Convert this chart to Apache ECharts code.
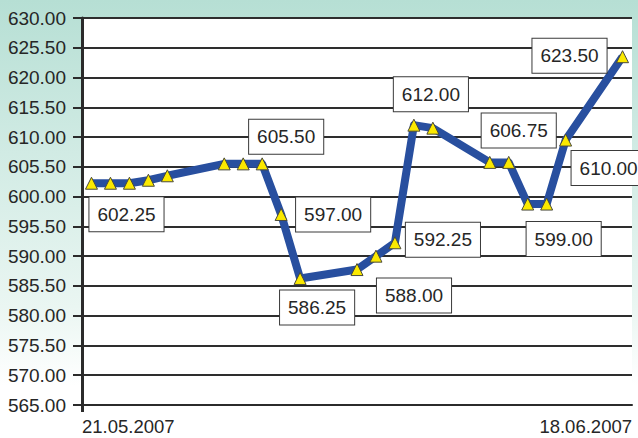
<!DOCTYPE html>
<html>
<head>
<meta charset="utf-8">
<script src="https://cdn.jsdelivr.net/npm/echarts@6/dist/echarts.min.js"></script>
<style>
  html, body { margin: 0; padding: 0; }
  body {
    width: 638px; height: 438px; overflow: hidden;
    background: linear-gradient(180deg, #b6dfd4 0%, #d1ebe4 35%, #eaf6f2 70%, #ffffff 88%);
  }
  #chart { width: 638px; height: 438px; }
</style>
</head>
<body>
<div id="chart"></div>
<script>
// ---- data ----
const tradeDates = ['21.05.2007','22.05.2007','23.05.2007','24.05.2007','25.05.2007',
  '28.05.2007','29.05.2007','30.05.2007','31.05.2007','01.06.2007',
  '04.06.2007','05.06.2007','06.06.2007','07.06.2007','08.06.2007',
  '11.06.2007','12.06.2007','13.06.2007','14.06.2007','15.06.2007',
  '18.06.2007'];
const prices = [602.25, 602.25, 602.25, 602.75, 603.5,
  605.5, 605.5, 605.5, 597.0, 586.25,
  587.75, 590.0, 592.25, 612.0, 611.5,
  605.75, 605.75, 598.75, 598.75, 609.5,
  623.5];
const annotDates = ['21.05.2007','30.05.2007','31.05.2007','01.06.2007','04.06.2007',
  '06.06.2007','07.06.2007','12.06.2007','14.06.2007','15.06.2007','18.06.2007'];
const annotTexts = ['602.25','605.50','597.00','586.25','588.00',
  '592.25','612.00','606.75','599.00','610.00','623.50'];
const yTickLabels = ['565.00','570.00','575.50','580.00','585.50','590.00','595.50',
  '600.00','605.50','610.00','615.50','620.00','625.50','630.00'];
const xAxisLabels = ['21.05.2007', '18.06.2007'];

// ---- styles / positions (not data) ----
const labelOffsets = {
  '21.05.2007': [35, 31], '30.05.2007': [24, -27], '31.05.2007': [52, 0],
  '01.06.2007': [17, 29], '04.06.2007': [57, 26], '06.06.2007': [48, -3],
  '07.06.2007': [17, -31], '12.06.2007': [10, -32], '14.06.2007': [17, 35],
  '15.06.2007': [43, 28], '18.06.2007': [-53, -1]
};

function dayIndex(s) {
  const p = s.split('.');
  const d0 = tradeDates[0].split('.');
  const t = Date.UTC(+p[2], +p[1] - 1, +p[0]);
  const t0 = Date.UTC(+d0[2], +d0[1] - 1, +d0[0]);
  return Math.round((t - t0) / 86400000);
}
const spanDays = dayIndex(tradeDates[tradeDates.length - 1]) + 1; // 29 calendar days

const seriesData = tradeDates.map((d, i) => {
  const item = { value: [dayIndex(d) + 0.5, prices[i]] };
  const k = annotDates.indexOf(d);
  if (k >= 0) {
    item.label = { show: true, formatter: annotTexts[k], offset: labelOffsets[d] };
  }
  return item;
});

const chart = echarts.init(document.getElementById('chart'), null, { renderer: 'svg' });
const FONT = '"Liberation Sans", Arial, sans-serif';
chart.setOption({
  animation: false,
  grid: { left: 82, right: 6, top: 18, bottom: 33, show: true, backgroundColor: '#ffffff', borderWidth: 0 },
  xAxis: {
    type: 'value', min: 0, max: spanDays, interval: spanDays,
    axisLine: { show: true, lineStyle: { color: '#2b2b2b', width: 2 } },
    axisTick: { show: true, customValues: [0], length: 7, lineStyle: { color: '#2b2b2b', width: 3 } },
    splitLine: { show: false },
    axisLabel: {
      show: true, margin: 12, fontSize: 18.5, color: '#262626', fontFamily: FONT,
      showMinLabel: true, showMaxLabel: true,
      alignMinLabel: 'left', alignMaxLabel: 'right',
      formatter: v => (v === 0 ? xAxisLabels[0] : (v === spanDays ? xAxisLabels[1] : ''))
    }
  },
  yAxis: {
    type: 'value', min: 565, max: 630, interval: 5,
    axisLine: { show: true, lineStyle: { color: '#2b2b2b', width: 3 } },
    axisTick: { show: true, length: 9, lineStyle: { color: '#2b2b2b', width: 2 } },
    splitLine: { show: true, lineStyle: { color: '#2e2e2e', width: 2 } },
    axisLabel: {
      margin: 16, fontSize: 19, color: '#262626', fontFamily: FONT,
      formatter: v => yTickLabels[Math.round((v - 565) / 5)]
    }
  },
  series: [{
    type: 'line',
    data: seriesData,
    lineStyle: { color: '#284f9f', width: 8, join: 'round' },
    symbol: 'triangle',
    symbolSize: [12, 12],
    itemStyle: { color: '#fbe900', borderColor: '#4a4a3a', borderWidth: 1 },
    label: {
      show: false, position: 'inside',
      fontSize: 19, color: '#262626', fontFamily: FONT,
      backgroundColor: '#ffffff', borderColor: '#3a3a3a', borderWidth: 1,
      padding: [6, 8], lineHeight: 22
    },
    emphasis: { disabled: true },
    z: 3
  }]
});
</script>
</body>
</html>
